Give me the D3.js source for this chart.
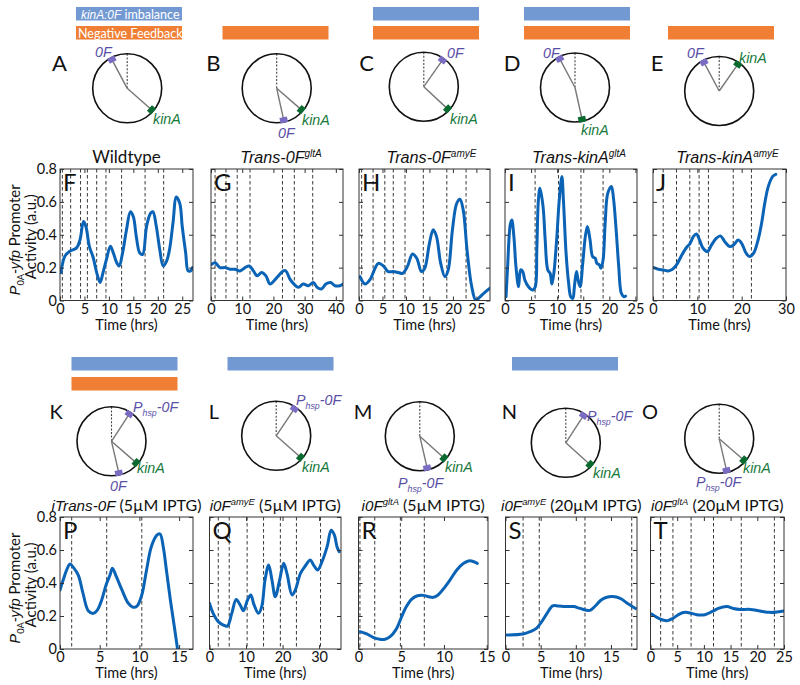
<!DOCTYPE html>
<html><head><meta charset="utf-8">
<script src="https://cdn.jsdelivr.net/npm/d3@7"></script>
<style>
body{margin:0;background:#fff}
svg{font-family:Lato,"Open Sans","DejaVu Sans",sans-serif}
</style>
</head><body>
<svg id="c" width="800" height="685"></svg>
<script>
// ---------------- DATA ----------------
const F_hours = [0.2,1.0,2.0,3.4,4.1,4.8,5.3,6.0,6.8,7.5,8.2,8.8,9.5,10.3,10.9,11.6,12.1,12.8,13.6,14.4,15.0,15.6,16.3,16.9,17.7,18.5,19.0,19.7,20.4,21.1,21.8,22.4,23.1,23.8,24.5,25.0,25.7,26.2,26.7,27.1];
const F_activity = [0.17,0.27,0.30,0.32,0.37,0.48,0.45,0.33,0.26,0.17,0.11,0.17,0.25,0.33,0.29,0.23,0.21,0.29,0.43,0.54,0.51,0.39,0.29,0.28,0.45,0.53,0.54,0.45,0.31,0.21,0.24,0.31,0.47,0.63,0.59,0.45,0.29,0.18,0.18,0.20];
const F_marks = [0.48,2.18,4.2,5.6,7.5,9.4,12.6,17.4,21.2];

const G_hours = [0.2,1.3,2.9,4.5,6.1,7.7,9.3,10.9,12.3,13.6,14.8,16.2,17.6,18.9,20.2,21.6,23.2,24.0,25.3,26.6,27.9,29.6,31.2,32.8,34.0,35.4,36.8,38.3,39.7,41.3,42.2];
const G_activity = [0.22,0.23,0.20,0.20,0.19,0.19,0.18,0.20,0.21,0.18,0.15,0.17,0.15,0.10,0.12,0.15,0.18,0.18,0.13,0.10,0.08,0.10,0.09,0.11,0.08,0.07,0.10,0.11,0.09,0.09,0.10];
const G_marks = [1.3,4.8,8.4,12.5,22.9,26.7,32.6];

const H_hours = [0.2,1.3,2.3,3.4,4.1,5.2,6.2,7.3,8.4,9.3,10.3,11.4,12.3,13.3,14.0,15.0,15.8,16.5,17.4,18.3,19.0,19.9,20.8,21.5,22.2,23.0,24.0,24.9,25.7,26.8,27.9];
const H_activity = [0.145,0.10,0.125,0.195,0.226,0.21,0.176,0.176,0.17,0.165,0.206,0.283,0.257,0.176,0.196,0.348,0.43,0.39,0.226,0.145,0.186,0.43,0.59,0.616,0.55,0.31,0.085,0.0,0.02,0.05,0.075];
const H_marks = [0.57,3.0,5.5,7.3,9.8,13.7,18.7,22.8];

const I_hours = [0.2,0.5,1.0,1.3,1.7,2.1,2.6,3.0,3.4,3.8,4.5,5.3,5.8,6.1,6.4,6.7,7.3,7.7,8.2,8.65,9.0,9.4,9.9,10.4,10.9,11.2,11.7,12.2,12.6,13.0,13.3,13.7,14.0,14.4,14.9,15.4,15.8,16.3,16.8,17.3,17.6,18.1,18.4,18.8,19.2,19.7,20.4,20.8,21.3,21.8,22.3,22.8,23.1];
const I_activity = [0.023,0.206,0.46,0.49,0.39,0.206,0.084,0.186,0.176,0.125,0.084,0.064,0.084,0.31,0.61,0.683,0.57,0.37,0.186,0.165,0.10,0.176,0.37,0.61,0.755,0.61,0.29,0.105,0.023,0.013,0.084,0.176,0.125,0.084,0.226,0.39,0.45,0.37,0.267,0.257,0.226,0.216,0.196,0.247,0.47,0.653,0.694,0.62,0.43,0.206,0.044,0.023,0.027];
const I_marks = [5.77,10.25,14.56,18.8];

const J_hours = [0.2,1.2,2.3,3.4,4.4,5.3,6.5,7.6,8.3,9.1,9.8,10.5,11.3,12.3,13.2,14.3,15.2,16.2,17.3,18.2,19.2,20.0,21.0,21.8,22.7,23.7,24.5,25.2,26.0,27.0,27.7];
const J_activity = [0.20,0.19,0.186,0.18,0.19,0.216,0.277,0.324,0.344,0.389,0.405,0.368,0.318,0.298,0.338,0.379,0.393,0.358,0.328,0.338,0.368,0.348,0.288,0.267,0.288,0.368,0.47,0.59,0.693,0.755,0.768];
const J_marks = [2.3,5.3,8.3,10.4,12.5,18.1,22.2];

const P_hours = [0,0.4,0.84,1.26,1.68,2.3,2.9,3.56,4.2,4.7,5.25,5.8,6.3,6.6,7.1,7.8,8.6,9.2,9.7,10.3,10.9,11.5,12.2,12.6,13.0,13.4,13.9,14.4,14.8];
const P_activity = [0.358,0.418,0.479,0.515,0.495,0.448,0.337,0.232,0.216,0.236,0.297,0.388,0.448,0.489,0.438,0.358,0.277,0.253,0.26,0.327,0.479,0.62,0.69,0.697,0.62,0.479,0.297,0.135,0.0];
const P_marks = [1.47,5.88,10.3];

const Q_hours = [0,1.0,2.4,3.8,4.9,6.1,7.3,8.4,9.3,10.4,11.3,12.2,13.4,14.3,15.2,16.2,17.1,18.0,19.2,20.3,21.2,22.6,23.5,24.9,26.2,27.6,28.5,29.6,30.8,32.2,33.3,34.2,34.9,35.5];
const Q_activity = [0.277,0.216,0.166,0.145,0.139,0.216,0.30,0.267,0.232,0.297,0.327,0.267,0.216,0.257,0.418,0.509,0.418,0.317,0.418,0.519,0.458,0.327,0.358,0.458,0.503,0.539,0.509,0.479,0.529,0.62,0.72,0.69,0.62,0.59];
const Q_marks = [2.4,5.4,10.3,14.8,19.4,23.8,30.4];

const R_hours = [0.17,0.96,1.7,2.5,3.1,3.7,4.4,5.05,5.6,6.2,6.8,7.6,8.2,8.75,9.3,9.9,10.7,11.5,12.3,13.0,13.5,13.9];
const R_activity = [0.105,0.091,0.071,0.059,0.059,0.075,0.119,0.196,0.257,0.301,0.321,0.325,0.317,0.313,0.327,0.362,0.418,0.479,0.519,0.535,0.529,0.519];
const R_marks = [0.17,1.9,4.9,7.7];

const S_hours = [0.17,2.5,3.5,4.4,5.15,5.9,6.7,7.5,8.5,9.7,10.6,12.0,12.8,13.6,14.4,15.2,16.3,17.2,18.5];
const S_activity = [0.085,0.091,0.105,0.125,0.166,0.216,0.261,0.261,0.257,0.257,0.246,0.234,0.262,0.297,0.314,0.318,0.307,0.281,0.246];
const S_marks = [2.5,4.8,11.3,17.95];

const T_hours = [0.2,1.2,2.3,3.2,4.2,5.4,6.5,7.7,9.0,10.2,11.5,12.7,14.3,15.5,16.8,18.7,20.5,22.4,24.0,24.9];
const T_activity = [0.212,0.192,0.176,0.172,0.186,0.212,0.222,0.216,0.206,0.208,0.226,0.246,0.257,0.246,0.240,0.240,0.230,0.222,0.226,0.230];
const T_marks = [1.9,4.2,7.6,11.8,17.0,23.2];

const yTicks = [0,0.2,0.4,0.6,0.8];
const F_xticks = [0,5,10,15,20,25], G_xticks = [0,10,20,30,40], H_xticks = [0,5,10,15,20,25],
      I_xticks = [0,5,10,15,20,25], J_xticks = [0,10,20,30], P_xticks = [0,5,10,15],
      Q_xticks = [0,10,20,30], R_xticks = [0,5,10,15], S_xticks = [0,5,10,15], T_xticks = [0,5,10,15,20,25];

// diagram content: angle of each gene on the chromosome (deg clockwise from origin at top)
const topCircles = ["A","B","C","D","E"];
const topGenes = [[["0F",-28],["kinA",131.5]],[["0F",167.5],["kinA",131]],[["0F",35],["kinA",133]],[["0F",-28],["kinA",167.5]],[["0F",-28],["kinA",35]]];
const midCircles = ["K","L","M","N","O"];
const midGenes = [[["Phsp",33],["kinA",131],["0F",167]],[["Phsp",34],["kinA",131.5]],[["kinA",132],["Phsp",167]],[["Phsp",33],["kinA",132]],[["Phsp",167],["kinA",131]]];
const hasImbalance = [1,0,1,1,0, 1,1,0,1,0];
const hasFeedback  = [1,1,1,1,1, 1,0,0,0,0];

// ---------------- LAYOUT ----------------
const svg = d3.select("#c");
const ROWS = {top:{y0:169,y1:300.5}, bot:{y0:517,y1:649}};
const BLUE = "#0b63b6", PURPLE_T = "#5a4fa6", PURPLE_M = "#7a6cc2", GREEN_T = "#16793b", GREEN_M = "#0b6a30";
const ITAL = "'Liberation Sans',Arial,sans-serif";

function rich(g, x, y, segs, size, anchor, fill) {
  const t = g.append("text").attr("x",x).attr("y",y).attr("font-size",size)
    .attr("text-anchor",anchor||"start").attr("fill",fill||"#111");
  let cur = 0;
  segs.forEach(s => {
    const sp = t.append("tspan").text(s.t);
    let fs = size;
    if (s.i) { sp.attr("font-style","italic").attr("font-family",ITAL).attr("font-weight",400); fs = size*0.95; }
    const shift = s.s==="sup" ? -0.38*size : s.s==="sub" ? 0.28*size : 0;
    sp.attr("dy", shift - cur); cur = shift;
    if (s.s) fs = fs*0.62;
    sp.attr("font-size", fs);
  });
  return t;
}

const panels = [
 {id:"F",row:"top",x0:60,x1:193,dmax:27.2,ticks:F_xticks,h:F_hours,v:F_activity,m:F_marks,tdx:0,ylab:true,
  title:[{t:"Wildtype"}]},
 {id:"G",row:"top",x0:211,x1:343,dmax:42.3,ticks:G_xticks,h:G_hours,v:G_activity,m:G_marks,tdx:4,
  title:[{t:"Trans-0F",i:1},{t:"gltA",i:1,s:"sup"}]},
 {id:"H",row:"top",x0:359,x1:490,dmax:27.9,ticks:H_xticks,h:H_hours,v:H_activity,m:H_marks,tdx:7,
  title:[{t:"Trans-0F",i:1},{t:"amyE",i:1,s:"sup"}]},
 {id:"I",row:"top",x0:505,x1:637,dmax:25.3,ticks:I_xticks,h:I_hours,v:I_activity,m:I_marks,tdx:8,
  title:[{t:"Trans-kinA",i:1},{t:"gltA",i:1,s:"sup"}]},
 {id:"J",row:"top",x0:653,x1:786,dmax:30,ticks:J_xticks,h:J_hours,v:J_activity,m:J_marks,tdx:8,
  title:[{t:"Trans-kinA",i:1},{t:"amyE",i:1,s:"sup"}]},
 {id:"P",row:"bot",x0:60,x1:193,dmax:16.75,ticks:P_xticks,h:P_hours,v:P_activity,m:P_marks,tdx:0,ylab:true,
  title:[{t:"iTrans-0F",i:1},{t:" (5\u00B5M IPTG)"}]},
 {id:"Q",row:"bot",x0:209.5,x1:341,dmax:36,ticks:Q_xticks,h:Q_hours,v:Q_activity,m:Q_marks,tdx:0,
  title:[{t:"i0F",i:1},{t:"amyE",i:1,s:"sup"},{t:" (5\u00B5M IPTG)"}]},
 {id:"R",row:"bot",x0:358.5,x1:488,dmax:15.15,ticks:R_xticks,h:R_hours,v:R_activity,m:R_marks,tdx:0,
  title:[{t:"i0F",i:1},{t:"gltA",i:1,s:"sup"},{t:" (5\u00B5M IPTG)"}]},
 {id:"S",row:"bot",x0:505.5,x1:637,dmax:18.7,ticks:S_xticks,h:S_hours,v:S_activity,m:S_marks,tdx:0,
  title:[{t:"i0F",i:1},{t:"amyE",i:1,s:"sup"},{t:" (20\u00B5M IPTG)"}]},
 {id:"T",row:"bot",x0:650.5,x1:784,dmax:25,ticks:T_xticks,h:T_hours,v:T_activity,m:T_marks,tdx:0,
  title:[{t:"i0F",i:1},{t:"gltA",i:1,s:"sup"},{t:" (20\u00B5M IPTG)"}]}
];

const defs = svg.append("defs");
panels.forEach(p => {
  const r = ROWS[p.row];
  const x = d3.scaleLinear().domain([0,p.dmax]).range([p.x0,p.x1]);
  const y = d3.scaleLinear().domain([0,0.8]).range([r.y1,r.y0]);
  const g = svg.append("g");
  const cid = "clip"+p.id;
  defs.append("clipPath").attr("id",cid).append("rect")
    .attr("x",p.x0).attr("y",r.y0).attr("width",p.x1-p.x0).attr("height",r.y1-r.y0);

  g.append("g").selectAll("line").data(p.m).join("line")
    .attr("x1",d=>x(d)).attr("x2",d=>x(d)).attr("y1",r.y0).attr("y2",r.y1)
    .attr("stroke","#3a3a3a").attr("stroke-width",1).attr("stroke-dasharray","3.5,2.5");

  const line = d3.line().x((d,i)=>x(p.h[i])).y(d=>y(d)).curve(d3.curveCatmullRom.alpha(0.5));
  g.append("path").datum(p.v).attr("d",line).attr("fill","none").attr("stroke",BLUE)
    .attr("stroke-width",3).attr("stroke-linejoin","round").attr("stroke-linecap","round")
    .attr("clip-path",`url(#${cid})`);

  const fmt = d => d===0 ? "0" : d3.format(".1f")(d);
  const axB = g.append("g").attr("transform",`translate(0,${r.y1})`)
    .call(d3.axisBottom(x).tickValues(p.ticks).tickSize(-4).tickSizeOuter(0).tickPadding(3).tickFormat(d3.format("d")));
  const axT = g.append("g").attr("transform",`translate(0,${r.y0})`)
    .call(d3.axisTop(x).tickValues(p.ticks).tickSize(-4).tickSizeOuter(0).tickFormat(""));
  const axL = g.append("g").attr("transform",`translate(${p.x0},0)`)
    .call(d3.axisLeft(y).tickValues(yTicks).tickSize(-4).tickSizeOuter(0).tickPadding(3).tickFormat(p.ylab?fmt:""));
  const axR = g.append("g").attr("transform",`translate(${p.x1},0)`)
    .call(d3.axisRight(y).tickValues(yTicks).tickSize(-4).tickSizeOuter(0).tickFormat(""));
  [axB,axT,axL,axR].forEach(a => {
    a.select(".domain").remove();
    a.selectAll("line").attr("stroke","#333");
    a.selectAll("text").attr("font-size",14.5).attr("font-family","Lato,'Open Sans',sans-serif").attr("fill","#111");
  });
  g.append("rect").attr("x",p.x0).attr("y",r.y0).attr("width",p.x1-p.x0).attr("height",r.y1-r.y0)
    .attr("fill","none").attr("stroke","#333").attr("stroke-width",1);

  g.append("text").attr("x",p.x0+3).attr("y",r.y0+22).attr("font-size",24).attr("fill","#111").text(p.id);
  g.append("text").attr("x",(p.x0+p.x1)/2).attr("y",r.y1+29).attr("text-anchor","middle")
    .attr("font-size",14.5).attr("fill","#111").text("Time (hrs)");
  rich(g,(p.x0+p.x1)/2+p.tdx, r.y0-6, p.title, p.row==="top"?17:16, "middle");

  if (p.ylab) {
    const cy = (r.y0+r.y1)/2;
    const l1 = rich(g,0,0,[{t:"P",i:1},{t:"0A",s:"sub"},{t:"-yfp",i:1},{t:" Promoter"}],15,"middle");
    l1.attr("transform",`translate(20,${cy+5}) rotate(-90)`);
    g.append("text").attr("font-size",15).attr("text-anchor","middle").attr("fill","#111")
      .attr("transform",`translate(35.5,${cy+2}) rotate(-90)`).text("Activity (a.u.)");
  }
});

// ---------------- header bars ----------------
const barCenters = [129,275.5,426,577,721, 124.5,280.5,0,565,0];
const barRows = [{b:7,o:26},{b:357,o:377}];
barCenters.forEach((c,i) => {
  if (!c) return;
  const rw = barRows[i<5?0:1];
  if (hasImbalance[i]) svg.append("rect").attr("x",c-53).attr("y",rw.b).attr("width",106).attr("height",13.5).attr("fill","#7399d3");
  if (hasFeedback[i]) svg.append("rect").attr("x",c-53).attr("y",rw.o).attr("width",106).attr("height",13.5).attr("fill","#f07f35");
});
// legend text in panel A bars
rich(svg,81,18.5,[{t:"kinA:0F",i:1},{t:" imbalance"}],12.5,"start","#fff");
svg.append("text").attr("x",78).attr("y",37.5).attr("font-size",12.5).attr("fill","#fff").text("Negative Feedback");

// ---------------- chromosome circles ----------------
const circLayout = {
  A:{lx:59.5,ly:71,fs:22,cx:127.2,cy:88.3},
  B:{lx:213.3,ly:71,fs:22,cx:276.7,cy:88.3},
  C:{lx:366.7,ly:71,fs:22,cx:423.8,cy:86.7},
  D:{lx:512,ly:71,fs:22,cx:575,cy:87.5},
  E:{lx:657,ly:71,fs:22,cx:719.2,cy:91},
  K:{lx:56,ly:419,fs:20,cx:111.5,cy:441.3},
  L:{lx:214,ly:419,fs:20,cx:276.2,cy:435.8},
  M:{lx:363,ly:419,fs:20,cx:419.8,cy:436.2},
  N:{lx:509.5,ly:419,fs:20,cx:565.8,cy:442.8},
  O:{lx:650,ly:419,fs:20,cx:719.2,cy:438.7}
};
const labelPos = {
  A:{"0F":[95,57],kinA:[153,124]},
  B:{kinA:[302,125],"0F":[278,138]},
  C:{"0F":[447,58],kinA:[450,124]},
  D:{"0F":[543,58],kinA:[581,135]},
  E:{"0F":[687,58],kinA:[739,63]},
  K:{Phsp:[133,412],kinA:[137,473],"0F":[110,491]},
  L:{Phsp:[296,405],kinA:[302,472]},
  M:{kinA:[445,472],Phsp:[398,488]},
  N:{Phsp:[587,421],kinA:[593,478]},
  O:{Phsp:[696,487],kinA:[743,473]}
};
const R = 34.5;
function drawCircle(id, genes) {
  const c = circLayout[id];
  const g = svg.append("g");
  g.append("text").attr("x",c.lx).attr("y",c.ly).attr("text-anchor","middle").attr("font-size",c.fs).attr("fill","#111").text(id);
  g.append("line").attr("x1",c.cx).attr("y1",c.cy-R).attr("x2",c.cx).attr("y2",c.cy)
    .attr("stroke","#444").attr("stroke-width",1.1).attr("stroke-dasharray","2,1.6");
  genes.forEach(([k,a]) => {
    const rad = a*Math.PI/180, rr = R-2;
    const mx = c.cx + rr*Math.sin(rad), my = c.cy - rr*Math.cos(rad);
    g.append("line").attr("x1",c.cx).attr("y1",c.cy).attr("x2",mx).attr("y2",my)
      .attr("stroke","#777").attr("stroke-width",1.4);
  });
  g.append("circle").attr("cx",c.cx).attr("cy",c.cy).attr("r",R).attr("fill","none").attr("stroke","#111").attr("stroke-width",1.6);
  genes.forEach(([k,a]) => {
    const rad = a*Math.PI/180, rr = R-2;
    const mx = c.cx + rr*Math.sin(rad), my = c.cy - rr*Math.cos(rad);
    const col = k==="kinA" ? GREEN_M : PURPLE_M;
    g.append("rect").attr("x",-3.8).attr("y",-2.8).attr("width",7.6).attr("height",5.6).attr("fill",col)
      .attr("transform",`translate(${mx},${my}) rotate(${a})`);
    const [tx,ty] = labelPos[id][k];
    if (k==="kinA") rich(g,tx,ty,[{t:"kinA",i:1}],15,"start",GREEN_T);
    else if (k==="0F") rich(g,tx,ty,[{t:"0F",i:1}],15,"start",PURPLE_T);
    else rich(g,tx,ty,[{t:"P",i:1},{t:"hsp",i:1,s:"sub"},{t:"-0F",i:1}],15,"start",PURPLE_T);
  });
}
topCircles.forEach((id,i)=>drawCircle(id, topGenes[i]));
midCircles.forEach((id,i)=>drawCircle(id, midGenes[i]));
</script>
</body></html>
